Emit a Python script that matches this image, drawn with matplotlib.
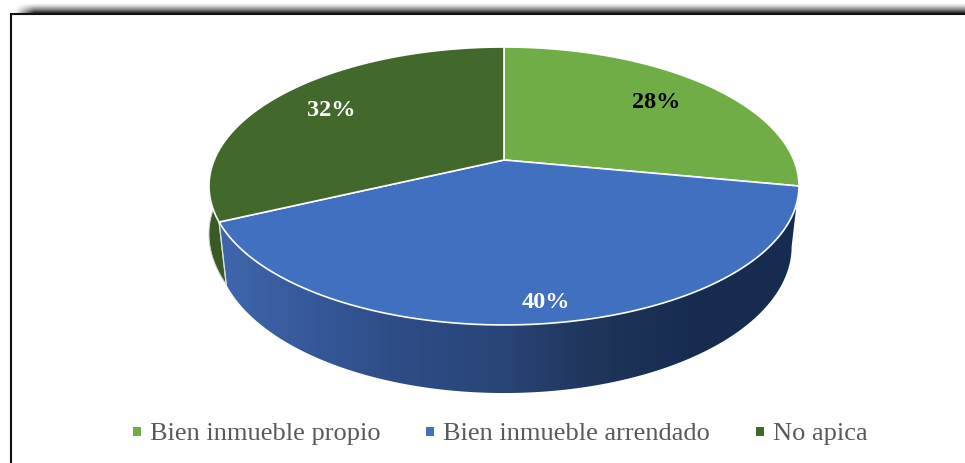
import numpy as np
import matplotlib
matplotlib.use('Agg')
import matplotlib.pyplot as plt
from matplotlib.colors import LinearSegmentedColormap
from matplotlib.patches import Polygon

labels = ['Bien inmueble propio', 'Bien inmueble arrendado', 'No apica']
values = [28, 40, 32]
pct_labels = ['28%', '40%', '32%']
colors = ['#70AD47', '#4170C0', '#43682B']
pct_colors = ['black', 'white', 'white']

# pie geometry in image pixels, perspective look like the office 3d pie
cx, cy = 504, 160
k = 0.187
A, B = 289.8, 134.1
side_y0, side_sx, side_sy = 219, 0.975, 1.055


def rim(theta):
    # theta in degrees, clockwise from the top
    t = np.radians(theta)
    u, v = np.sin(t), np.cos(t)
    w = 1 + k * v
    return A * u / w, -B * v / w


def top_rim(theta):
    x, y = rim(theta)
    return cx + x, cy + y


def low_rim(theta, sx=side_sx):
    x, y = rim(theta)
    return cx + sx * x, side_y0 + side_sy * y


fig = plt.figure(figsize=(9.65, 4.63), dpi=100)
ax = fig.add_axes([0, 0, 1, 1])
ax.axis('off')

# shadow above the frame
fade = np.linspace(0, 1, 30)[:, None] ** 1.3 * np.clip(np.linspace(0, 50, 400), 0, 1)[None, :]
shadow = np.zeros((30, 400, 4))
shadow[..., 3] = fade * 0.85
ax.imshow(shadow, extent=(14, 965, 13, 3), aspect='auto', zorder=1, interpolation='bilinear')
ax.plot([10.5, 10.5, 965], [463, 13.5, 13.5], color='#111111', lw=1.5, zorder=2, solid_joinstyle='miter')

edges = np.cumsum([0] + values) / sum(values) * 360

# blue side wall, gradient left to right
# the wall only shows up under the rim a little past the green/blue edge
tx, ty = top_rim(np.linspace(edges[1] + 7, edges[2], 200))
lx, ly = low_rim(np.linspace(edges[1], edges[2], 200))
wall = Polygon(np.r_[np.c_[tx, ty], np.c_[lx, ly][::-1]], closed=True, fc='none', ec='none')
ax.add_patch(wall)
wall_cmap = LinearSegmentedColormap.from_list('wall', [(0, '#3F66AD'), (0.31, '#2E4C86'), (0.48, '#294578'),
                                                       (0.66, '#1F3459'), (0.83, '#172B50'), (1, '#182C50')])
im = ax.imshow(np.linspace(0, 1, 256)[None, :], extent=(218, 799, 400, 180), cmap=wall_cmap, aspect='auto', zorder=3)
im.set_clip_path(wall)

# dark green sliver on the left
th = np.linspace(edges[2], 275, 60)
tx, ty = top_rim(th)
# lower edge of the sliver sits further out than the blue wall
lx, ly = low_rim(th, np.linspace(side_sx, 1.02, 60))
ax.add_patch(Polygon(np.r_[np.c_[tx, ty], np.c_[lx, ly][::-1]], closed=True, fc='#3A5A25', ec='#C9D2C4', lw=0.7, zorder=3))

# a bit of light edge on the wall where the sliver meets it
ax.plot(*zip(top_rim(edges[2]), low_rim(edges[2])), color='#DDE3E0', lw=0.9, zorder=4)

# top faces
for i in range(len(values)):
    th = np.linspace(edges[i], edges[i + 1], 200)
    x, y = top_rim(th)
    pts = np.r_[[[cx, cy]], np.c_[x, y]]
    ax.add_patch(Polygon(pts, closed=True, fc=colors[i], ec='white', lw=1.2, zorder=5, joinstyle='round'))

# data labels
label_xy = [(656, 103), (546, 302), (331, 110)]
for txt, c, (x, y) in zip(pct_labels, pct_colors, label_xy):
    ax.text(x, y, txt, color=c, family='Liberation Serif', weight='bold', fontsize=17.5,
            ha='center', va='center', zorder=6)

# legend
legend_x = [133, 426, 756]
for name, c, x in zip(labels, colors, legend_x):
    ax.add_patch(Polygon([(x, 427), (x + 8, 427), (x + 8, 435.5), (x, 435.5)], closed=True, fc=c, ec='none', zorder=6))
    ax.text(x + 17, 440, name, color='#595959', family='Liberation Serif', fontsize=19,
            ha='left', va='baseline', zorder=6)

# imshow touches the limits so set them last
ax.set_xlim(0, 965)
ax.set_ylim(463, 0)
fig.savefig('out.png', dpi=100)
